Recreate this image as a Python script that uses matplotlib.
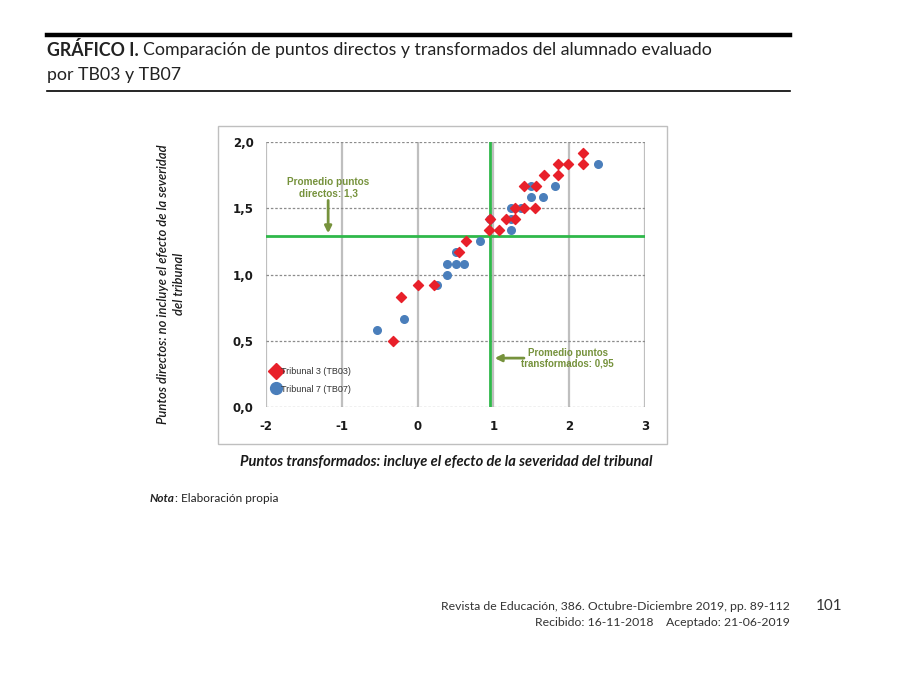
import matplotlib
matplotlib.use('Agg')
import matplotlib.pyplot as plt
from matplotlib.patches import Rectangle
from matplotlib.lines import Line2D

# Data (transformed points x, direct points y)
tb03_x = [2.18, 1.85, 1.99, 2.18, 1.67, 1.85, 1.40, 1.56, 1.29, 1.40, 1.55,
          0.95, 1.17, 1.29, 0.94, 1.08, 0.64, 0.54, 0.00, 0.21, -0.22, -0.33]
tb03_y = [1.917, 1.833, 1.833, 1.833, 1.75, 1.75, 1.667, 1.667, 1.5, 1.5, 1.5,
          1.417, 1.417, 1.417, 1.333, 1.333, 1.25, 1.167, 0.917, 0.917, 0.833, 0.5]
tb07_x = [2.38, 1.50, 1.81, 1.50, 1.65, 1.23, 1.36, 0.96, 1.23, 1.23, 0.82,
          0.50, 0.385, 0.50, 0.61, 0.385, 0.26, -0.185, -0.54]
tb07_y = [1.833, 1.667, 1.667, 1.583, 1.583, 1.5, 1.5, 1.417, 1.417, 1.333, 1.25,
          1.167, 1.083, 1.083, 1.083, 1.0, 0.917, 0.667, 0.583]

mean_direct = 1.29
mean_transf = 0.95

x_ticks = [-2, -1, 0, 1, 2, 3]
y_ticks = [0.0, 0.5, 1.0, 1.5, 2.0]
y_ticklabels = ['0,0', '0,5', '1,0', '1,5', '2,0']

RED = '#e8202a'
BLUE = '#4a7ebb'
GREEN = '#2fb84a'
OLIVE = '#76923c'
W, H = 900, 676

fig = plt.figure(figsize=(9, 6.76), dpi=100)
fig.patch.set_facecolor('white')

def px(x, y):
    return x / W, 1 - y / H

# page header
fig.add_artist(Line2D([47 / W, 790 / W], [1 - 35 / H] * 2, color='black', lw=3.2))
fig.add_artist(Line2D([47 / W, 790 / W], [1 - 91 / H] * 2, color='black', lw=1.2))
t1 = fig.text(*px(47, 50), 'GRÁFICO I.', family='Lato', fontweight='bold',
              fontsize=12.8, va='center', ha='left', color='#222222')
fig.canvas.draw()
bb = t1.get_window_extent()
fig.text(bb.x1 / W + 4 / W, 1 - 50 / H,
         'Comparación de puntos directos y transformados del alumnado evaluado',
         family='Lato', fontsize=12.8, va='center', ha='left', color='#222222')
fig.text(*px(47, 75), 'por TB03 y TB07', family='Lato', fontsize=12.8,
         va='center', ha='left', color='#222222')

# chart area border
fig.add_artist(Rectangle((218 / W, 1 - 444 / H), (667 - 218) / W, (444 - 126) / H,
                         transform=fig.transFigure, fill=False,
                         edgecolor='#bfbfbf', lw=1.0))

ax = fig.add_axes([266 / W, 1 - 407 / H, (645 - 266) / W, (407 - 142) / H])
ax.set_xlim(-2, 3)
ax.set_ylim(0, 2)
for s in ax.spines.values():
    s.set_visible(False)

for xv in x_ticks:
    ax.axvline(xv, color='#bfbfbf', lw=1.6, zorder=0)
for yv in y_ticks:
    ax.axhline(yv, color='#8c8c8c', lw=0.9, ls=(0, (2, 1.5)), zorder=0)

ax.axhline(mean_direct, color=GREEN, lw=2, zorder=1)
ax.axvline(mean_transf, color=GREEN, lw=2, zorder=1)

ax.scatter(tb07_x, tb07_y, marker='o', s=30, color=BLUE, zorder=3,
           label='Tribunal 7 (TB07)')
ax.scatter(tb03_x, tb03_y, marker='D', s=26, color=RED, zorder=4,
           label='Tribunal 3 (TB03)')

ax.set_xticks(x_ticks)
ax.set_xticklabels([str(v) for v in x_ticks])
ax.set_yticks(y_ticks)
ax.set_yticklabels(y_ticklabels)
ax.tick_params(length=0, pad=9)
for lab in ax.get_xticklabels() + ax.get_yticklabels():
    lab.set_fontweight('bold')
    lab.set_fontsize(8.5)
    lab.set_family('DejaVu Sans')
    lab.set_color('#1a1a1a')

# annotations
ax.text(-1.18, 1.655, 'Promedio puntos\ndirectos: 1,3', ha='center', va='center',
        fontsize=7.2, fontweight='bold', color=OLIVE, family='Liberation Sans',
        linespacing=1.1)
ax.annotate('', xy=(-1.18, mean_direct), xytext=(-1.18, 1.58),
            arrowprops=dict(arrowstyle='-|>', color=OLIVE, lw=2, mutation_scale=10))
ax.text(1.98, 0.37, 'Promedio puntos\ntransformados: 0,95', ha='center', va='center',
        fontsize=7.0, fontweight='bold', color=OLIVE, family='Liberation Sans',
        linespacing=1.1)
ax.annotate('', xy=(mean_transf + 0.03, 0.369), xytext=(1.44, 0.369),
            arrowprops=dict(arrowstyle='-|>', color=OLIVE, lw=2, mutation_scale=10))

handles = [Line2D([], [], marker='D', ls='', color=RED, markersize=8),
           Line2D([], [], marker='o', ls='', color=BLUE, markersize=8.5)]
leg = ax.legend(handles, ['Tribunal 3 (TB03)', 'Tribunal 7 (TB07)'],
                loc='lower left', bbox_to_anchor=(-0.01, 0.02), frameon=False,
                handletextpad=0.0, handlelength=1.2, labelspacing=0.9,
                prop={'family': 'Liberation Sans', 'size': 6.5})
for t in leg.get_texts():
    t.set_color('#333333')

# axis titles
fig.text(*px(446, 462), 'Puntos transformados: incluye el efecto de la severidad del tribunal',
         ha='center', va='center', fontsize=10.5, fontweight='bold', style='italic',
         family='Lato', color='#1a1a1a')
fig.text(*px(171, 284), 'Puntos directos: no incluye el efecto de la severidad\ndel tribunal',
         ha='center', va='center', rotation=90, fontsize=9.4, style='italic',
         family='Lato', fontweight='semibold', color='#1a1a1a', linespacing=1.45)

# note and footer
tn = fig.text(*px(150, 498), 'Nota', ha='left', va='center', fontsize=8.5,
              fontweight='bold', style='italic', family='Lato', color='#222222')
fig.canvas.draw()
bb = tn.get_window_extent()
fig.text(bb.x1 / W, 1 - 498 / H, ': Elaboración propia', ha='left', va='center',
         fontsize=8.5, family='Lato', color='#222222')

fig.text(*px(790, 606), 'Revista de Educación, 386. Octubre-Diciembre 2019, pp. 89-112',
         ha='right', va='center', fontsize=8.8, family='Lato', color='#333333')
fig.text(*px(790, 622), 'Recibido: 16-11-2018    Aceptado: 21-06-2019',
         ha='right', va='center', fontsize=8.8, family='Lato', color='#333333')
fig.text(*px(829, 606), '101', ha='center', va='center', fontsize=11,
         family='Lato', color='#333333')

fig.savefig('out.png', dpi=100, facecolor='white')
